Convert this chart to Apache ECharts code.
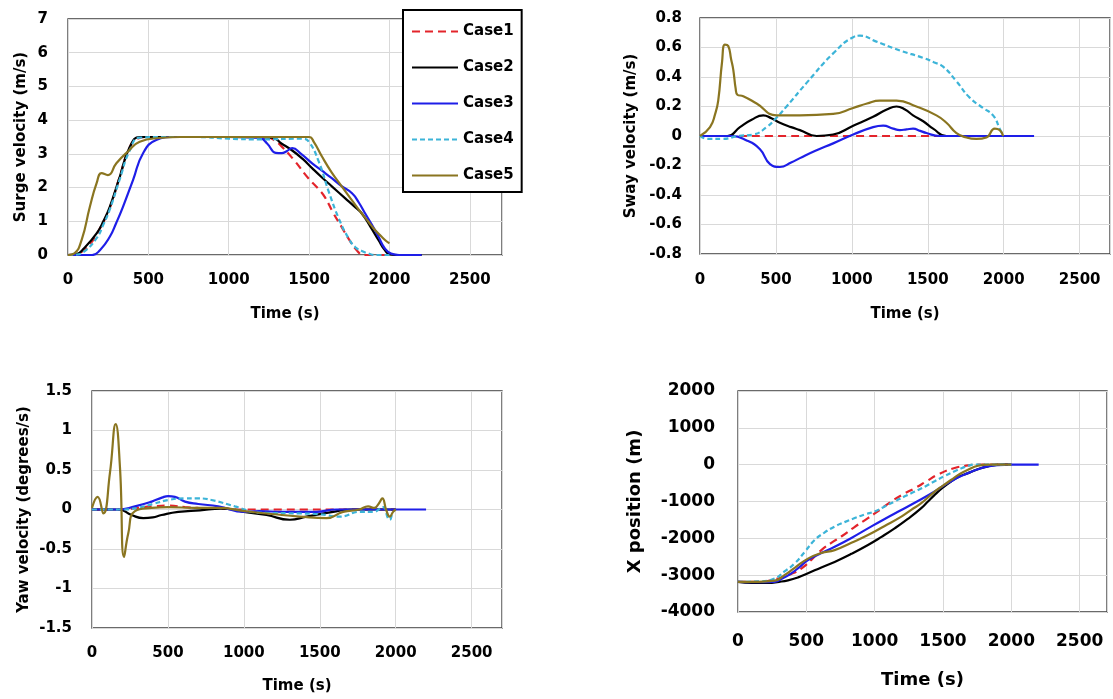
<!DOCTYPE html>
<html>
<head>
<meta charset="utf-8">
<script src="https://cdn.jsdelivr.net/npm/echarts@6/dist/echarts.min.js"></script>
<style>
html,body{margin:0;padding:0;background:#fff;}
#chart{width:1113px;height:699px;}
</style>
</head>
<body>
<div id="chart"></div>
<script>
// ---------- DATA (time s, value) ----------
const caseNames = ['Case1', 'Case2', 'Case3', 'Case4', 'Case5'];
const timeTicks = [0, 500, 1000, 1500, 2000, 2500];

// Surge velocity (m/s)
const surgeCase1 = [[0,0],[50,0.02],[100,0.15],[150,0.4],[200,0.8],[260,1.4],[320,2.3],[380,3.15],[430,3.45],[500,3.5],[1000,3.5],[1230,3.5],[1290,3.38],[1333,3.2],[1400,2.85],[1500,2.25],[1560,1.95],[1600,1.7],[1650,1.25],[1700,0.85],[1750,0.45],[1800,0.12],[1840,0],[2000,0]];
const surgeCase2 = [[0,0],[50,0.02],[100,0.2],[178,0.64],[220,1.0],[260,1.43],[322,2.32],[384,3.2],[446,3.5],[600,3.5],[1000,3.5],[1270,3.48],[1330,3.3],[1395,3.1],[1460,2.85],[1520,2.57],[1580,2.3],[1643,2.03],[1725,1.68],[1790,1.4],[1828,1.23],[1880,0.85],[1932,0.44],[1970,0.15],[2000,0.02],[2050,0],[2200,0]];
const surgeCase3 = [[0,0],[150,0],[200,0.15],[260,0.54],[300,0.95],[342,1.43],[405,2.23],[467,3.02],[549,3.41],[652,3.5],[1000,3.5],[1189,3.48],[1240,3.3],[1292,3.03],[1330,3.02],[1360,3.08],[1395,3.17],[1450,3.0],[1519,2.72],[1580,2.5],[1643,2.27],[1700,2.05],[1767,1.83],[1810,1.55],[1849,1.23],[1890,0.9],[1932,0.54],[1970,0.2],[2010,0.04],[2060,0],[2200,0]];
const surgeCase4 = [[0,0],[50,0.01],[100,0.1],[178,0.5],[220,0.9],[260,1.35],[322,2.25],[384,3.1],[446,3.48],[600,3.5],[800,3.5],[1000,3.45],[1200,3.43],[1460,3.45],[1500,3.35],[1560,2.77],[1622,1.88],[1684,1.09],[1746,0.49],[1790,0.22],[1828,0.12],[1870,0.04],[1911,0],[2000,0]];
const surgeCase5 = [[0,0],[40,0.05],[85,0.45],[136,1.43],[178,2.13],[209,2.43],[248,2.37],[301,2.72],[373,3.07],[446,3.36],[570,3.47],[700,3.5],[1000,3.5],[1500,3.5],[1530,3.35],[1580,2.92],[1640,2.45],[1704,2.03],[1770,1.6],[1828,1.23],[1870,0.98],[1910,0.74],[1950,0.55],[1983,0.4],[2000,0.35]];

// Sway velocity (m/s)
const swayCase1 = [[0,0],[500,0],[1000,0],[1500,0],[2000,0]];
const swayCase2 = [[0,0],[180,0],[263,0.06],[340,0.11],[417,0.14],[470,0.12],[526,0.09],[600,0.06],[658,0.04],[768,0],[877,0.01],[1009,0.07],[1140,0.13],[1230,0.18],[1294,0.2],[1350,0.18],[1403,0.14],[1470,0.1],[1535,0.05],[1623,0],[2000,0]];
const swayCase3 = [[0,0],[200,0],[307,-0.03],[395,-0.09],[461,-0.19],[526,-0.21],[600,-0.18],[658,-0.15],[760,-0.1],[877,-0.05],[1009,0.01],[1140,0.06],[1206,0.07],[1272,0.05],[1316,0.04],[1360,0.045],[1403,0.05],[1450,0.035],[1491,0.02],[1579,0],[2200,0]];
const swayCase4 = [[0,0],[50,-0.02],[150,-0.02],[250,0],[351,0.01],[439,0.06],[500,0.12],[570,0.2],[702,0.36],[877,0.56],[1009,0.67],[1053,0.68],[1162,0.64],[1316,0.58],[1469,0.53],[1540,0.5],[1601,0.47],[1689,0.37],[1776,0.26],[1864,0.19],[1930,0.14],[1974,0.05],[1996,0]];
const swayCase5 = [[0,0],[66,0.06],[100,0.15],[120,0.24],[145,0.5],[164,0.62],[186,0.61],[205,0.52],[219,0.45],[235,0.32],[246,0.28],[285,0.27],[373,0.22],[504,0.14],[658,0.14],[877,0.15],[1009,0.19],[1100,0.22],[1184,0.24],[1294,0.24],[1425,0.2],[1557,0.14],[1623,0.09],[1689,0.02],[1754,-0.01],[1820,-0.02],[1886,-0.01],[1941,0.05],[1974,0.04],[1996,0]];

// Yaw velocity (degrees/s)
const yawCase1 = [[0,0],[200,0],[300,0.02],[400,0.04],[502,0.05],[612,0.03],[700,0.02],[875,0.01],[1000,0],[2000,0]];
const yawCase2 = [[0,0],[173,0],[261,-0.07],[338,-0.11],[400,-0.1],[458,-0.07],[568,-0.03],[711,-0.01],[850,0.01],[929,0],[1000,-0.03],[1149,-0.07],[1303,-0.13],[1412,-0.09],[1588,-0.03],[1697,0],[2000,0]];
const yawCase3 = [[0,0],[173,0],[283,0.04],[393,0.1],[460,0.15],[502,0.17],[546,0.16],[612,0.1],[700,0.07],[831,0.04],[1006,-0.03],[1100,-0.02],[1259,-0.03],[1478,-0.03],[1610,0],[2200,0]];
const yawCase4 = [[0,0],[200,0],[300,0.02],[400,0.07],[502,0.12],[612,0.14],[700,0.14],[787,0.12],[941,0.04],[1100,-0.04],[1368,-0.05],[1500,-0.06],[1632,-0.09],[1763,-0.03],[1851,-0.03],[1917,0.03],[1949,-0.11],[1961,-0.13],[1975,-0.05]];
const yawCase5 = [[0,0.02],[37,0.16],[75,-0.05],[118,0.46],[156,1.08],[184,0.54],[211,-0.6],[239,-0.3],[283,-0.02],[392,0.02],[502,0.03],[677,0.02],[831,0.02],[1006,-0.02],[1200,-0.06],[1368,-0.09],[1544,-0.11],[1653,-0.03],[1760,0],[1818,0.04],[1860,0.02],[1890,0.08],[1912,0.14],[1938,-0.01],[1961,-0.09],[1983,-0.03],[2000,0]];

// X position (m)
const xposCase1 = [[0,-3180],[150,-3180],[293,-3090],[380,-2980],[463,-2820],[540,-2570],[610,-2320],[680,-2130],[756,-1950],[850,-1700],[951,-1450],[1040,-1220],[1122,-1000],[1210,-800],[1293,-640],[1380,-450],[1463,-270],[1585,-90],[1683,-20],[1732,0],[2000,0]];
const xposCase2 = [[0,-3180],[100,-3210],[220,-3210],[300,-3180],[366,-3140],[440,-3060],[512,-2950],[610,-2790],[707,-2640],[830,-2420],[951,-2180],[1050,-1960],[1146,-1730],[1240,-1480],[1341,-1180],[1390,-1000],[1439,-820],[1500,-620],[1561,-450],[1620,-320],[1683,-230],[1750,-130],[1829,-45],[1927,0],[2000,0]];
const xposCase3 = [[0,-3180],[150,-3190],[268,-3180],[330,-3080],[390,-2950],[450,-2780],[512,-2590],[610,-2400],[707,-2230],[830,-1990],[951,-1730],[1070,-1480],[1195,-1230],[1320,-980],[1439,-730],[1500,-580],[1561,-450],[1620,-330],[1683,-230],[1750,-130],[1829,-45],[1900,-10],[2000,0],[2200,0]];
const xposCase4 = [[0,-3180],[150,-3170],[268,-3090],[340,-2900],[415,-2680],[490,-2360],[561,-2045],[630,-1850],[707,-1680],[780,-1560],[854,-1450],[930,-1350],[1000,-1270],[1070,-1140],[1146,-1000],[1220,-860],[1293,-730],[1370,-590],[1439,-450],[1510,-310],[1585,-180],[1640,-90],[1683,-30],[1732,0],[2000,0]];
const xposCase5 = [[0,-3180],[150,-3180],[268,-3150],[340,-3000],[415,-2800],[512,-2550],[610,-2400],[707,-2320],[830,-2120],[951,-1910],[1070,-1670],[1195,-1410],[1270,-1220],[1341,-1045],[1439,-730],[1500,-570],[1561,-410],[1620,-260],[1683,-136],[1756,-30],[1830,0],[2000,0]];

const panels = [
  { title: 'Surge velocity (m/s)', min: 0, max: 7, interval: 1, data: [surgeCase1, surgeCase2, surgeCase3, surgeCase4, surgeCase5] },
  { title: 'Sway velocity (m/s)', min: -0.8, max: 0.8, interval: 0.2, data: [swayCase1, swayCase2, swayCase3, swayCase4, swayCase5] },
  { title: 'Yaw velocity (degrees/s)', min: -1.5, max: 1.5, interval: 0.5, data: [yawCase1, yawCase2, yawCase3, yawCase4, yawCase5] },
  { title: 'X position (m)', min: -4000, max: 2000, interval: 1000, data: [xposCase1, xposCase2, xposCase3, xposCase4, xposCase5] }
];

// ---------- STYLE / LAYOUT ----------
const FONT = 'DejaVu Sans';
const caseStyles = [
  { color: '#e3242b', type: [8, 5] },
  { color: '#000000', type: 'solid' },
  { color: '#1e1ee8', type: 'solid' },
  { color: '#3cb4d8', type: [5, 3] },
  { color: '#8a7520', type: 'solid' }
];
const layout = [
  { grid: { left: 68, top: 19, width: 434, height: 236 }, fs: 15, tfs: 15, xMargin: 18, yMargin: 20, xGap: 52, yGap: 39 },
  { grid: { left: 700, top: 18, width: 410, height: 236 }, fs: 15, tfs: 15, xMargin: 19, yMargin: 18, xGap: 53, yGap: 61 },
  { grid: { left: 92, top: 391, width: 410, height: 237 }, fs: 15, tfs: 15, xMargin: 18, yMargin: 20, xGap: 51, yGap: 60 },
  { grid: { left: 738, top: 391, width: 369, height: 221 }, fs: 17, tfs: 18, xMargin: 21, yMargin: 23, xGap: 59, yGap: 94 }
];

const grids = [], xAxes = [], yAxes = [], series = [];
panels.forEach((p, i) => {
  const L = layout[i];
  grids.push(Object.assign({ show: true, borderColor: '#3a3a3a', borderWidth: 1.3, backgroundColor: 'transparent', containLabel: false }, L.grid));
  xAxes.push({
    gridIndex: i, type: 'value', min: 0, max: 2700, interval: 500,
    name: 'Time (s)', nameLocation: 'middle', nameGap: L.xGap,
    nameTextStyle: { fontFamily: FONT, fontWeight: 'bold', fontSize: L.tfs, color: '#000' },
    axisLine: { show: false }, axisTick: { show: false },
    axisLabel: { showMaxLabel: false, margin: L.xMargin, fontFamily: FONT, fontWeight: 'bold', fontSize: L.fs, color: '#000',
      formatter: v => (timeTicks.indexOf(v) >= 0 ? String(v) : '') },
    splitLine: { show: true, lineStyle: { color: '#d9d9d9', width: 1 } }
  });
  yAxes.push({
    gridIndex: i, type: 'value', min: p.min, max: p.max, interval: p.interval,
    name: p.title, nameLocation: 'middle', nameGap: L.yGap, nameRotate: 90,
    nameTextStyle: { fontFamily: FONT, fontWeight: 'bold', fontSize: L.tfs, color: '#000' },
    axisLine: { show: false }, axisTick: { show: false },
    axisLabel: { margin: L.yMargin, fontFamily: FONT, fontWeight: 'bold', fontSize: L.fs, color: '#000',
      formatter: v => String(Math.round(v * 100) / 100) },
    splitLine: { show: true, lineStyle: { color: '#d9d9d9', width: 1 } }
  });
  p.data.forEach((d, k) => {
    series.push({
      name: caseNames[k], type: 'line', xAxisIndex: i, yAxisIndex: i,
      data: d, symbol: 'none', smooth: 0.5,
      lineStyle: { color: caseStyles[k].color, width: 2.2, type: caseStyles[k].type },
      itemStyle: { color: caseStyles[k].color },
      animation: false, z: 2 + k * 0.01
    });
  });
});

const chart = echarts.init(document.getElementById('chart'), null, { renderer: 'canvas' });
chart.setOption({
  animation: false,
  backgroundColor: '#ffffff',
  legend: {
    data: caseNames, orient: 'vertical', left: 403, top: 10,
    backgroundColor: '#ffffff', borderColor: '#000000', borderWidth: 2, borderRadius: 0,
    padding: [14, 8, 9, 8], itemGap: 21, itemWidth: 46, itemHeight: 14,
    itemStyle: { opacity: 0, color: 'transparent', borderColor: 'transparent', borderWidth: 0 },
    textStyle: { fontFamily: FONT, fontWeight: 'bold', fontSize: 15, color: '#000' },
    z: 10
  },
  grid: grids, xAxis: xAxes, yAxis: yAxes, series: series
});
</script>
</body>
</html>
